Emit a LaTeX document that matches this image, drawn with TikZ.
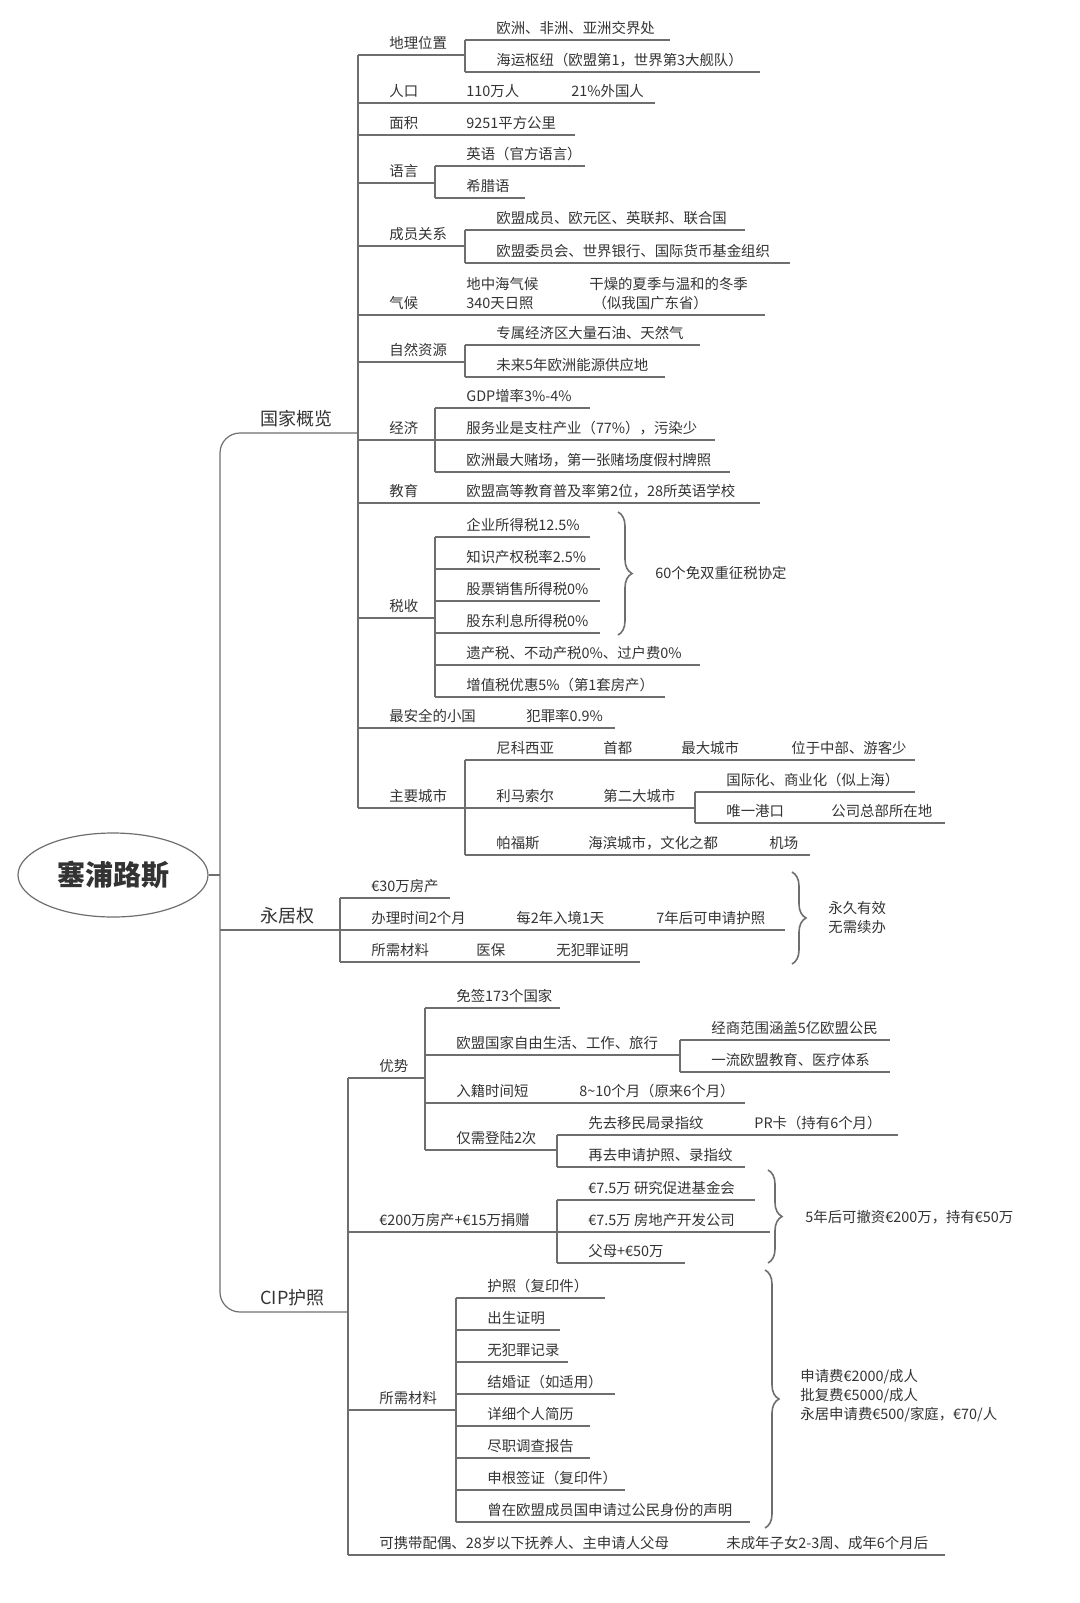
\documentclass[tikz,border=0pt]{standalone}
\usepackage{fontspec}
\setmainfont{Noto Sans CJK SC}
\usetikzlibrary{shapes.geometric,decorations.pathreplacing}
\definecolor{txt}{HTML}{333333}
\definecolor{ln}{HTML}{6E6E6E}
\tikzset{
  lbl/.style={anchor=south west,inner sep=0pt,text=txt,font=\fontsize{7.2}{9.5}\selectfont,align=left},
  ln/.style={draw=ln,line width=0.6pt},
  brc/.style={ln,line width=0.8pt,decorate,decoration={brace,amplitude=7pt}},
  big/.style={lbl,font=\fontsize{9}{11}\selectfont}
}
% underlined item: name, x from, x to, y, text
\newcommand\itm[5]{%
  \coordinate (#1-a) at (#2,#4); \coordinate (#1-b) at (#3,#4);
  \node[lbl] (#1) at (#2+31,#4-5) {#5};
  \draw[ln] (#1-a) -- (#1-b);}
\begin{document}
\begin{tikzpicture}[x=0.5pt,y=-0.5pt]
\useasboundingbox (0,0) rectangle (1080,1603);
\node[ellipse,draw=ln,line width=0.6pt,minimum width=95pt,minimum height=42pt,text=txt,font=\fontsize{14}{16}\selectfont\bfseries] (root) at (113,875) {塞浦路斯};
% main branches
\coordinate (guo-a) at (220,433); \coordinate (guo-b) at (358,433);
\node[big] (guo) at (260,427) {国家概览};
\coordinate (yong-a) at (220,930); \coordinate (yong-b) at (340,930);
\node[big] (yong) at (260,924) {永居权};
\coordinate (cip-a) at (220,1312); \coordinate (cip-b) at (348,1312);
\node[big] (cip) at (260,1306) {CIP护照};
\draw[ln,rounded corners=10] (guo-b) -- (guo-a) -- (cip-a) -- (cip-b);
\draw[ln] (yong-a) -- (yong-b);
\draw[ln] (root.east) -- (root.east -| guo-a);
% 国家概览
\itm{geo}{358}{465}{55}{地理位置}
\itm{geo1}{465}{670}{40}{欧洲、非洲、亚洲交界处}
\itm{geo2}{465}{760}{72}{海运枢纽（欧盟第1，世界第3大舰队）}
\draw[ln] (geo1-a) -- (geo2-a);
\itm{pop}{358}{435}{103}{人口}
\itm{pop1}{435}{540}{103}{110万人}
\itm{pop2}{540}{655}{103}{21\%外国人}
\itm{area}{358}{435}{135}{面积}
\itm{area1}{435}{575}{135}{9251平方公里}
\itm{lang}{358}{435}{183}{语言}
\itm{lang1}{435}{585}{166}{英语（官方语言）}
\itm{lang2}{435}{525}{198}{希腊语}
\draw[ln] (lang1-a) -- (lang2-a);
\itm{mem}{358}{465}{246}{成员关系}
\itm{mem1}{465}{745}{230}{欧盟成员、欧元区、英联邦、联合国}
\itm{mem2}{465}{790}{263}{欧盟委员会、世界银行、国际货币基金组织}
\draw[ln] (mem1-a) -- (mem2-a);
\itm{clim}{358}{435}{315}{气候}
\itm{clim1}{435}{558}{315}{地中海气候\\340天日照}
\itm{clim2}{558}{765}{315}{干燥的夏季与温和的冬季\\\ （似我国广东省）}
\itm{res}{358}{465}{362}{自然资源}
\itm{res1}{465}{700}{345}{专属经济区大量石油、天然气}
\itm{res2}{465}{665}{377}{未来5年欧洲能源供应地}
\draw[ln] (res1-a) -- (res2-a);
\itm{eco}{358}{435}{440}{经济}
\itm{eco1}{435}{590}{408}{GDP增率3\%-4\%}
\itm{eco2}{435}{715}{440}{服务业是支柱产业（77\%），污染少}
\itm{eco3}{435}{730}{472}{欧洲最大赌场，第一张赌场度假村牌照}
\draw[ln] (eco1-a) -- (eco3-a);
\itm{edu}{358}{435}{503}{教育}
\itm{edu1}{435}{760}{503}{欧盟高等教育普及率第2位，28所英语学校}
\itm{tax}{358}{435}{618}{税收}
\itm{tax1}{435}{590}{537}{企业所得税12.5\%}
\itm{tax2}{435}{600}{569}{知识产权税率2.5\%}
\itm{tax3}{435}{600}{601}{股票销售所得税0\%}
\itm{tax4}{435}{600}{633}{股东利息所得税0\%}
\itm{tax5}{435}{700}{665}{遗产税、不动产税0\%、过户费0\%}
\itm{tax6}{435}{665}{697}{增值税优惠5\%（第1套房产）}
\draw[ln] (tax1-a) -- (tax6-a);
\coordinate (taxb1) at (618,512); \coordinate (taxb2) at (618,635);
\draw[brc] (taxb1) -- (taxb2);
\node[lbl,anchor=west] (taxn) at (655,573) {60个免双重征税协定};
\itm{safe}{358}{495}{728}{最安全的小国}
\itm{safe1}{495}{615}{728}{犯罪率0.9\%}
\itm{city}{358}{465}{808}{主要城市}
\itm{nic}{465}{572}{760}{尼科西亚}
\itm{nic1}{572}{650}{760}{首都}
\itm{nic2}{650}{760}{760}{最大城市}
\itm{nic3}{760}{915}{760}{位于中部、游客少}
\itm{lim}{465}{572}{808}{利马索尔}
\itm{lim1}{572}{695}{808}{第二大城市}
\itm{lim2}{695}{915}{792}{国际化、商业化（似上海）}
\itm{lim3}{695}{800}{823}{唯一港口}
\itm{lim4}{800}{945}{823}{公司总部所在地}
\draw[ln] (lim2-a) -- (lim3-a);
\itm{paf}{465}{557}{855}{帕福斯}
\itm{paf1}{557}{738}{855}{海滨城市，文化之都}
\itm{paf2}{738}{810}{855}{机场}
\draw[ln] (nic-a) -- (paf-a);
\draw[ln] (geo-a) -- (city-a);
% 永居权
\itm{pr1}{340}{450}{898}{€30万房产}
\itm{pr2}{340}{485}{930}{办理时间2个月}
\itm{pr3}{485}{625}{930}{每2年入境1天}
\itm{pr4}{625}{785}{930}{7年后可申请护照}
\itm{pr5}{340}{445}{962}{所需材料}
\itm{pr6}{445}{525}{962}{医保}
\itm{pr7}{525}{640}{962}{无犯罪证明}
\draw[ln] (pr1-a) -- (pr5-a);
\coordinate (prb1) at (792,872); \coordinate (prb2) at (792,964);
\draw[brc] (prb1) -- (prb2);
\node[lbl,anchor=west] (prn) at (828,918) {永久有效\\无需续办};
% CIP护照
\itm{adv}{348}{425}{1078}{优势}
\itm{adv1}{425}{560}{1008}{免签173个国家}
\itm{adv2}{425}{680}{1055}{欧盟国家自由生活、工作、旅行}
\itm{adv21}{680}{890}{1040}{经商范围涵盖5亿欧盟公民}
\itm{adv22}{680}{890}{1072}{一流欧盟教育、医疗体系}
\draw[ln] (adv21-a) -- (adv22-a);
\itm{adv3}{425}{548}{1103}{入籍时间短}
\itm{adv31}{548}{745}{1103}{8\textasciitilde10个月（原来6个月）}
\itm{adv4}{425}{557}{1150}{仅需登陆2次}
\itm{adv41}{557}{723}{1135}{先去移民局录指纹}
\itm{adv42}{723}{898}{1135}{PR卡（持有6个月）}
\itm{adv43}{557}{745}{1167}{再去申请护照、录指纹}
\draw[ln] (adv41-a) -- (adv43-a);
\draw[ln] (adv1-a) -- (adv4-a);
\itm{inv}{348}{557}{1232}{€200万房产+€15万捐赠}
\itm{inv1}{557}{755}{1200}{€7.5万 研究促进基金会}
\itm{inv2}{557}{770}{1232}{€7.5万 房地产开发公司}
\itm{inv3}{557}{685}{1263}{父母+€50万}
\draw[ln] (inv1-a) -- (inv3-a);
\coordinate (invb1) at (768,1170); \coordinate (invb2) at (768,1263);
\draw[brc] (invb1) -- (invb2);
\node[lbl,anchor=west] (invn) at (805,1217) {5年后可撤资€200万，持有€50万};
\itm{doc}{348}{456}{1410}{所需材料}
\itm{doc1}{456}{605}{1298}{护照（复印件）}
\itm{doc2}{456}{560}{1330}{出生证明}
\itm{doc3}{456}{568}{1362}{无犯罪记录}
\itm{doc4}{456}{615}{1394}{结婚证（如适用）}
\itm{doc5}{456}{590}{1426}{详细个人简历}
\itm{doc6}{456}{590}{1458}{尽职调查报告}
\itm{doc7}{456}{625}{1490}{申根签证（复印件）}
\itm{doc8}{456}{750}{1522}{曾在欧盟成员国申请过公民身份的声明}
\draw[ln] (doc1-a) -- (doc8-a);
\coordinate (docb1) at (765,1270); \coordinate (docb2) at (765,1528);
\draw[brc] (docb1) -- (docb2);
\node[lbl,anchor=west] (docn) at (800,1396) {申请费€2000/成人\\批复费€5000/成人\\永居申请费€500/家庭，€70/人};
\itm{fam}{348}{695}{1555}{可携带配偶、28岁以下抚养人、主申请人父母}
\itm{fam1}{695}{945}{1555}{未成年子女2-3周、成年6个月后}
\draw[ln] (adv-a) -- (fam-a);
\end{tikzpicture}
\end{document}
